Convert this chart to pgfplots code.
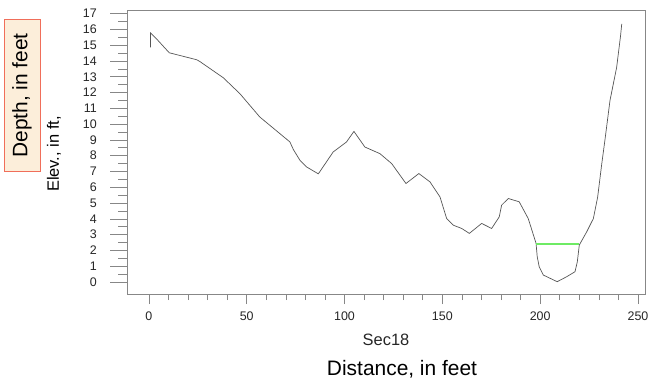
\documentclass[border=0pt]{standalone}
\usepackage{pgfplots}
\pgfplotsset{compat=1.18}
\usepackage{fontspec}
\setmainfont{Liberation Sans}
\definecolor{axgray}{RGB}{135,135,135}
\definecolor{curve}{RGB}{85,85,85}
\definecolor{wsgreen}{RGB}{110,235,100}
\definecolor{boxfill}{RGB}{252,238,218}
\definecolor{boxedge}{RGB}{240,110,90}
\begin{document}
\begin{tikzpicture}[x=1bp,y=1bp]
\useasboundingbox (0,0) rectangle (652,386);
% main axis: box, x ticks, data
\begin{axis}[
  at={(127bp,92bp)}, anchor=south west,
  scale only axis, width=518bp, height=284bp,
  xmin=-11.2, xmax=253.6, ymin=-0.76, ymax=17.23,
  axis line style={draw=axgray, line width=0.8pt},
  tick pos=left, tick align=outside,
  xtick={0,50,...,250}, minor x tick num=4,
  ytick=\empty,
  major tick length=10bp, minor tick length=6bp,
  every tick/.style={draw=axgray, line width=0.7pt},
  /pgf/number format/assume math mode=true,
  xticklabel style={font=\fontsize{12.5}{14}\selectfont, text=black!85, inner sep=0pt, anchor=north, yshift=-8bp},
  clip=false,
]
\addplot[curve, line width=0.7pt] coordinates {
(0.8,14.87) (0.8,15.78) (3.9,15.4) (10.4,14.52) (24.4,14.08) (26,13.97)
(38,12.94) (46.5,11.93) (56.7,10.45) (72.1,8.87) (73.8,8.4) (77.2,7.71)
(80.6,7.29) (86.6,6.85) (94.2,8.24) (101,8.87) (104.8,9.54) (110.4,8.55)
(118.1,8.13) (124.1,7.5) (131.4,6.24) (138,6.87) (143.7,6.34) (148.8,5.39)
(152.2,4.02) (155.6,3.6) (159.9,3.39) (163.8,3.08) (170.1,3.71) (175.2,3.39)
(179.1,4.13) (180.3,4.87) (183.7,5.29) (189.3,5.08) (193.9,4.02) (197.9,2.45)
(198.5,1.6) (199.5,0.97) (201.6,0.44) (208.7,0.02) (213.5,0.33) (217.8,0.65)
(219,1.28) (220,2.34) (223.8,3.18) (227.2,4.02) (229.4,5.39) (231.4,7.4)
(233.1,8.98) (235.7,11.5) (239.1,13.6) (241.1,15.6) (241.7,16.35)
};
\addplot[wsgreen, line width=1.5pt] coordinates {(197.9,2.4) (220,2.4)};
\end{axis}
% second axis: y ticks with longer lengths
\begin{axis}[
  at={(127bp,92bp)}, anchor=south west,
  scale only axis, width=518bp, height=284bp,
  xmin=-11.2, xmax=253.6, ymin=-0.76, ymax=17.23,
  axis line style={draw=none},
  tick pos=left, tick align=outside,
  xtick=\empty,
  ytick={0,1,...,17}, minor y tick num=1,
  major tick length=17bp, minor tick length=9bp,
  every tick/.style={draw=axgray, line width=0.7pt},
  /pgf/number format/assume math mode=true,
  yticklabel style={font=\fontsize{12.5}{14}\selectfont, text=black!85, inner sep=0pt, anchor=east, xshift=-13bp},
]
\end{axis}
% labels
\node[draw=boxedge, fill=boxfill, line width=0.8pt, minimum width=36bp, minimum height=152bp, inner sep=0pt] at (22,290.5) {};
\node[rotate=90, font=\fontsize{21}{24}\selectfont] at (22,290.5) {Depth, in feet};
\node[rotate=90, font=\fontsize{16.5}{19}\selectfont] at (54,232) {Elev., in ft,};
\node[font=\fontsize{16.5}{19}\selectfont, text=black!85] at (386,46) {Sec18};
\node[font=\fontsize{21}{24}\selectfont] at (402,17) {Distance, in feet};
\end{tikzpicture}
\end{document}
